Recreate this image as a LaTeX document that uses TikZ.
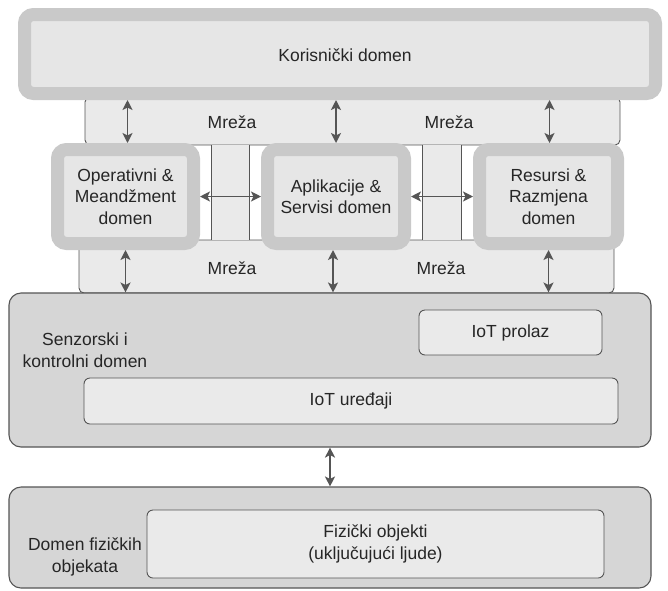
\documentclass[tikz,border=0pt]{standalone}
\usepackage{fontspec}
\setmainfont{Liberation Sans}
\usetikzlibrary{arrows.meta}
\definecolor{ringgray}{HTML}{C9C9C9}
\definecolor{panel}{HTML}{E6E6E6}
\definecolor{band}{HTML}{EAEAEA}
\definecolor{sensfill}{HTML}{D6D6D6}
\definecolor{edge}{HTML}{555555}
\definecolor{ink}{HTML}{262626}
\definecolor{arrowgray}{HTML}{555555}
\tikzset{
  ringbox/.style={draw=ringgray, fill=panel, line width=13pt, rounded corners=9pt,
    inner sep=0pt, outer sep=6.5pt, align=center, text=ink},
  bandbox/.style={draw=edge, fill=band, line width=0.9pt, rounded corners=5pt, inner sep=0pt},
  domainbox/.style={draw=edge, fill=sensfill, line width=1.1pt, rounded corners=12pt, inner sep=0pt},
  innerbox/.style={draw=edge, fill=band, line width=0.9pt, rounded corners=6pt, inner sep=0pt,
    align=center, text=ink},
  label/.style={align=center, text=ink, inner sep=0pt},
  biarrow/.style={draw=arrowgray, line width=1.8pt,
    {Stealth[length=10pt,width=10pt,inset=2.5pt]}-{Stealth[length=10pt,width=10pt,inset=2.5pt]}},
  stripline/.style={draw=edge, line width=0.8pt}
}
\begin{document}
\begin{tikzpicture}[x=1pt, y=-1pt, font=\fontsize{17.5}{21.5}\selectfont]
\useasboundingbox (0,0) rectangle (668,590);
\fill[white] (0,0) rectangle (668,590);

% network bands behind the middle domains
\node[bandbox, minimum width=535pt, minimum height=48pt] (topnet) at (352.5,121) {};
\node[bandbox, minimum width=535pt, minimum height=53pt] (botnet) at (346.5,266.5) {};

% vertical strips joining the two bands
\node[fill=band, inner sep=0pt, minimum width=37pt, minimum height=95pt] (stripa) at (230.5,192.5) {};
\node[fill=band, inner sep=0pt, minimum width=38pt, minimum height=95pt] (stripb) at (442,192.5) {};
\draw[stripline] (stripa.north west) -- (stripa.south west);
\draw[stripline] (stripa.north east) -- (stripa.south east);
\draw[stripline] (stripb.north west) -- (stripb.south west);
\draw[stripline] (stripb.north east) -- (stripb.south east);

% user domain
\node[ringbox, minimum width=631pt, minimum height=79pt] (kor) at (340,54) {};
\node[label] (kortext) at (345,55) {Korisnički domen};

% middle domains
\node[ringbox, minimum width=136pt, minimum height=94pt] (op) at (125.5,196.5)
  {Operativni \&\\Meandžment\\domen};
\node[ringbox, minimum width=137pt, minimum height=94pt] (app) at (336,196.5)
  {Aplikacije \&\\Servisi domen};
\node[ringbox, minimum width=138pt, minimum height=94pt] (res) at (548.5,196.5)
  {Resursi \&\\Razmjena\\domen};

% network labels
\node[label] (net1) at (232,122) {Mreža};
\node[label] (net2) at (449,122) {Mreža};
\node[label] (net3) at (232,268) {Mreža};
\node[label] (net4) at (441,268) {Mreža};

% sensing and control domain
\node[domainbox, minimum width=642pt, minimum height=154pt] (sens) at (330,370) {};
\node[label] (senstext) at (85,350) {Senzorski i\\kontrolni domen};
\node[innerbox, minimum width=183pt, minimum height=45pt] (gw) at (510.5,332.5) {IoT prolaz};
\node[innerbox, minimum width=534pt, minimum height=46pt] (dev) at (351,401) {IoT uređaji};

% physical entity domain
\node[domainbox, minimum width=642pt, minimum height=101pt] (phys) at (330,537.5) {};
\node[innerbox, minimum width=457pt, minimum height=68pt] (obj) at (375.5,544)
  {Fizički objekti\\(uključujući ljude)};
\node[label] (phystext) at (85,557) {Domen fizičkih\\objekata};

% vertical connectors between layers
\draw[biarrow] ([xshift=2pt]op.north |- kor.south) -- ([xshift=2pt]op.north);
\draw[biarrow] (app.north |- kor.south) -- (app.north);
\draw[biarrow] ([xshift=1pt]res.north |- kor.south) -- ([xshift=1pt]res.north);
\draw[biarrow] (op.south) -- (op.south |- sens.north);
\draw[biarrow] ([xshift=-3pt]app.south) -- ([xshift=-3pt]app.south |- sens.north);
\draw[biarrow] (res.south) -- (res.south |- sens.north);

% horizontal connectors between middle domains
\draw[biarrow] (op.east) -- (app.west);
\draw[biarrow] (app.east) -- (res.west);

% sensing to physical
\draw[biarrow] ([xshift=-6pt]sens.south -| app.south) -- ([xshift=-6pt]phys.north -| app.south);
\end{tikzpicture}
\end{document}
